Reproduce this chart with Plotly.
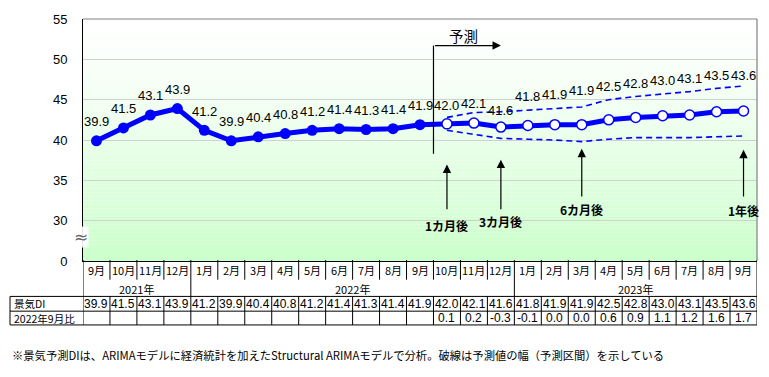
import plotly.graph_objects as go

# ---------------- data ----------------
months = ["9月", "10月", "11月", "12月", "1月", "2月", "3月", "4月", "5月", "6月", "7月", "8月", "9月",
          "10月", "11月", "12月", "1月", "2月", "3月", "4月", "5月", "6月", "7月", "8月", "9月"]
years = ["2021年", "2022年", "2023年"]
year_first_idx = [0, 4, 16]
year_last_idx = [3, 15, 24]
di_values = [39.9, 41.5, 43.1, 43.9, 41.2, 39.9, 40.4, 40.8, 41.2, 41.4, 41.3, 41.4, 41.9,
             42.0, 42.1, 41.6, 41.8, 41.9, 41.9, 42.5, 42.8, 43.0, 43.1, 43.5, 43.6]
n_actual = 13  # Sep 2021 .. Sep 2022 are actual values
upper_band = [42.8, 43.4, 43.5, 43.7, 43.9, 44.1, 45.0, 45.4, 45.7, 46.0, 46.4, 46.7]
lower_band = [41.2, 40.7, 40.2, 40.1, 40.0, 39.8, 40.1, 40.3, 40.3, 40.3, 40.4, 40.5]
diff_vs_base = [0.1, 0.2, -0.3, -0.1, 0.0, 0.0, 0.6, 0.9, 1.1, 1.2, 1.6, 1.7]
ytick_vals = [25, 30, 35, 40, 45, 50, 55]
ytick_text = ["0", "30", "35", "40", "45", "50", "55"]
horizon_labels = ["1カ月後", "3カ月後", "6カ月後", "1年後"]
horizon_idx = [13, 15, 18, 24]
row_labels = ["景気DI", "2022年9月比"]
footnote = "※景気予測DIは、ARIMAモデルに経済統計を加えたStructural ARIMAモデルで分析。破線は予測値の幅（予測区間）を示している"

# ---------------- geometry helpers (pixel layout) ----------------
W, H = 769, 377
L, R, T, B = 83, 12, 15, 116
PLOT_H = H - T - B
PLOT_W = W - L - R
Y0, Y1 = 25, 55
ppu = PLOT_H / (Y1 - Y0)


def ydat(py):  # pixel row -> data y
    return Y0 + (H - B - py) / ppu


def ypap(py):  # pixel row -> paper y
    return (H - B - py) / PLOT_H


def xpap(px):
    return (px - L) / PLOT_W


n = len(months)
xs = list(range(n))
fx = xs[n_actual:]
BLUE = "#0000ff"
JP = "Noto Sans CJK JP"
LAT = "Arial, Liberation Sans, " + JP

fig = go.Figure()

# forecast band (dashed)
fig.add_trace(go.Scatter(x=fx, y=upper_band, mode="lines",
                         line=dict(color=BLUE, width=1.6, dash="6px,4px"), hoverinfo="skip"))
fig.add_trace(go.Scatter(x=fx, y=lower_band, mode="lines",
                         line=dict(color=BLUE, width=1.6, dash="6px,4px"), hoverinfo="skip"))
# main line
fig.add_trace(go.Scatter(x=xs, y=di_values, mode="lines",
                         line=dict(color=BLUE, width=5), hoverinfo="skip"))
# actual markers
fig.add_trace(go.Scatter(x=xs[:n_actual], y=di_values[:n_actual], mode="markers",
                         marker=dict(color=BLUE, size=11), hoverinfo="skip"))
# forecast markers
fig.add_trace(go.Scatter(x=fx, y=di_values[n_actual:], mode="markers",
                         marker=dict(color="white", size=10, line=dict(color=BLUE, width=1.5)),
                         hoverinfo="skip"))

shapes = []
# gradient background
nb = 60
for i in range(nb):
    t = (i + 0.5) / nb  # 0 bottom -> 1 top
    g = (1 - t) ** 1.3
    r = int(round(255 - (255 - 202) * g))
    shapes.append(dict(type="rect", xref="paper", yref="paper", x0=0, x1=1,
                       y0=i / nb, y1=(i + 1) / nb, fillcolor=f"rgb({r},255,{r})",
                       line=dict(width=0), layer="below"))
# frame top/right
shapes.append(dict(type="line", xref="paper", yref="paper", x0=0, x1=1, y0=1, y1=1,
                   line=dict(color="#808080", width=1.2)))
shapes.append(dict(type="line", xref="paper", yref="paper", x0=1, x1=1, y0=0, y1=1,
                   line=dict(color="#808080", width=1.2)))

# table lines
blk = dict(color="black", width=1)
for b in range(n + 1):
    xb = b - 0.5
    if b in (0, n):
        y_bot = 326
    elif b in year_first_idx:
        y_bot = 297
    else:
        y_bot = 280
    shapes.append(dict(type="line", xref="x", yref="paper", x0=xb, x1=xb,
                       y0=ypap(260), y1=ypap(y_bot), line=blk))
    if 0 < b < n:
        shapes.append(dict(type="line", xref="x", yref="paper", x0=xb, x1=xb,
                           y0=ypap(297), y1=ypap(326), line=blk))
for py in (297, 312, 326):
    shapes.append(dict(type="line", xref="paper", yref="paper", x0=xpap(10), x1=1,
                       y0=ypap(py), y1=ypap(py), line=blk))
shapes.append(dict(type="line", xref="paper", yref="paper", x0=xpap(10), x1=xpap(10),
                   y0=ypap(297), y1=ypap(326), line=blk))

# forecast bracket vertical line
shapes.append(dict(type="line", xref="x", yref="y", x0=n_actual - 0.5, x1=n_actual - 0.5,
                   y0=ydat(152), y1=ydat(42), line=dict(color="black", width=1.2)))

ann = []
# data labels
label_lift = [19] * n_actual + [18, 20, 17, 29, 30, 34, 33, 34, 35, 36, 36, 35]
for i, v in enumerate(di_values):
    ann.append(dict(x=i, y=v, xref="x", yref="y", text=f"{v:.1f}", showarrow=False,
                    yshift=label_lift[i], yanchor="middle",
                    font=dict(family=LAT, size=13, color="black")))

# forecast bracket arrow + text
ann.append(dict(x=n_actual + 2, y=ydat(42), ax=n_actual - 0.5, ay=ydat(42), xref="x", yref="y",
                axref="x", ayref="y", text="", showarrow=True, arrowhead=2, arrowsize=1.4,
                arrowwidth=1.2, arrowcolor="black", standoff=0, startstandoff=0))
ann.append(dict(x=n_actual + 0.6, y=ydat(32), xref="x", yref="y", text="予測", showarrow=False,
                font=dict(family=JP, size=14.5, color="black")))

# horizon arrows
tips = [163, 158, 147, 148]
tails = [210, 210, 197, 197]
lbl_y = [225, 221, 209, 210]
for k, idx in enumerate(horizon_idx):
    ann.append(dict(x=idx, y=ydat(tips[k]), ax=idx, ay=ydat(tails[k]), xref="x", yref="y",
                    axref="x", ayref="y", text="", showarrow=True, arrowhead=2, arrowsize=1.4,
                    arrowwidth=1.2, arrowcolor="black", standoff=0, startstandoff=0))
    ann.append(dict(x=idx, y=ydat(lbl_y[k]), xref="x", yref="y", text=f"<b>{horizon_labels[k]}</b>",
                    showarrow=False, font=dict(family=JP, size=12, color="black")))

# axis break mark
ann.append(dict(x=xpap(81), y=ypap(237), xref="paper", yref="paper", text="≈", showarrow=False,
                xanchor="center", yanchor="middle",
                font=dict(family="DejaVu Sans", size=17, color="#666666"),
                bgcolor="rgba(255,255,255,0.9)", borderpad=0))

# table text
tfont = dict(family=JP, size=11, color="black")
nfont = dict(family="Liberation Sans, Arial", size=12, color="black")
rfont = dict(family=JP, size=10.5, color="black")
for i, m in enumerate(months):
    ann.append(dict(x=i, y=ypap(270), xref="x", yref="paper", text=m, showarrow=False,
                    font=tfont, yanchor="middle"))
    ann.append(dict(x=i, y=ypap(304.5), xref="x", yref="paper", text=f"{di_values[i]:.1f}",
                    showarrow=False, font=nfont, yanchor="middle"))
for k, yl in enumerate(years):
    ann.append(dict(x=(year_first_idx[k] + year_last_idx[k]) / 2, y=ypap(289), xref="x",
                    yref="paper", text=yl, showarrow=False, font=tfont, yanchor="middle"))
for j, d in enumerate(diff_vs_base):
    ann.append(dict(x=n_actual + j, y=ypap(319), xref="x", yref="paper", text=f"{d:.1f}",
                    showarrow=False, font=nfont, yanchor="middle"))
for r_, py in zip(row_labels, (304.5, 319.5)):
    ann.append(dict(x=xpap(12), y=ypap(py), xref="paper", yref="paper", text=r_,
                    showarrow=False, font=rfont, xanchor="left", yanchor="middle"))
ann.append(dict(x=xpap(10), y=ypap(357), xref="paper", yref="paper", text=footnote,
                showarrow=False, font=dict(family=JP, size=11.3, color="black"),
                xanchor="left", yanchor="middle"))

fig.update_layout(
    width=W, height=H, margin=dict(l=L, r=R, t=T, b=B),
    paper_bgcolor="white", plot_bgcolor="white", showlegend=False,
    shapes=shapes, annotations=ann,
    xaxis=dict(range=[-0.5, n - 0.5], showgrid=False, zeroline=False, showticklabels=False,
               showline=True, linecolor="black", linewidth=1, fixedrange=True),
    yaxis=dict(range=[Y0, Y1], tickvals=ytick_vals, ticktext=ytick_text, showgrid=True,
               gridcolor="#d0d0d0", gridwidth=1, zeroline=False, showline=True,
               linecolor="black", linewidth=1, ticks="", ticklabelstandoff=12,
               tickfont=dict(family=LAT, size=13, color="black"), fixedrange=True),
)

fig.write_html("out.html", config={"displayModeBar": False},
               post_script="document.body.style.margin='0px';document.body.style.overflow='hidden';")
